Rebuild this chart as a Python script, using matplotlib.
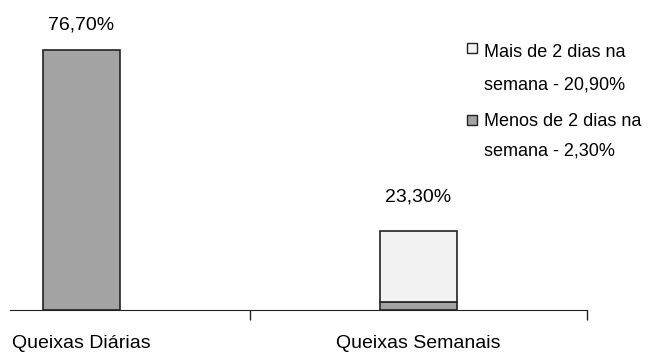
import matplotlib
matplotlib.use('Agg')
import matplotlib.pyplot as plt
from matplotlib.patches import Rectangle

plt.rcParams['font.family'] = ['Liberation Sans', 'DejaVu Sans']

categorias = ['Queixas Diárias', 'Queixas Semanais']
diarias = [76.7, 0]
menos_2_dias = [0, 2.3]
mais_2_dias = [0, 20.9]
totais = ['76,70%', '23,30%']
legenda = [['Mais de 2 dias na', 'semana - 20,90%'],
           ['Menos de 2 dias na', 'semana - 2,30%']]
cores_legenda = ['#f2f2f2', '#a3a3a3']

W, H = 653, 356
fig = plt.figure(figsize=(W / 100, H / 100), dpi=100)
ax = fig.add_axes([10 / W, 46 / H, 577 / W, 310 / H])

x = [0, 1]
w = 0.231
edge = dict(edgecolor='#222222', linewidth=1.2)
ax.bar(x[0], diarias[0], w, color='#a3a3a3', **edge)
ax.bar(x[1], menos_2_dias[1], w, color='#a3a3a3', **edge)
ax.bar(x[1], mais_2_dias[1], w, bottom=menos_2_dias[1], color='#f2f2f2', **edge)

# rótulos dos totais acima das barras
alturas = [diarias[0], menos_2_dias[1] + mais_2_dias[1]]
deslocamentos = [18, 24.5]
for xi, h, txt, d in zip(x, alturas, totais, deslocamentos):
    ax.annotate(txt, (xi, h), xytext=(0, d), textcoords='offset points',
                ha='center', va='center', fontsize=14)

ax.set_xlim(-0.212, 1.5)
ax.set_ylim(0, 91.5)
for s in ['top', 'right', 'left']:
    ax.spines[s].set_visible(False)
ax.spines['bottom'].set_color('#222222')
ax.set_yticks([])
ax.set_xticks(x)
ax.set_xticklabels(categorias, fontsize=14)
ax.tick_params(axis='x', which='major', length=0, pad=18)
ax.set_xticks([0.5, 1.5], minor=True)
ax.tick_params(axis='x', which='minor', length=7, width=1, color='#222222')

# legenda manual (quadrado alinhado com a primeira linha)
topos_quadrado = [43, 115]
linhas_base = [(57, 90), (126, 155)]
for cor, (l1, l2), yq, (b1, b2) in zip(cores_legenda, legenda, topos_quadrado, linhas_base):
    fig.add_artist(Rectangle((467 / W, 1 - (yq + 10) / H), 10 / W, 10 / H,
                             transform=fig.transFigure, facecolor=cor,
                             edgecolor='#222222', linewidth=1))
    fig.text(484 / W, 1 - b1 / H, l1, fontsize=13, va='baseline')
    fig.text(484 / W, 1 - b2 / H, l2, fontsize=13, va='baseline')

fig.savefig('out.png', dpi=100)
